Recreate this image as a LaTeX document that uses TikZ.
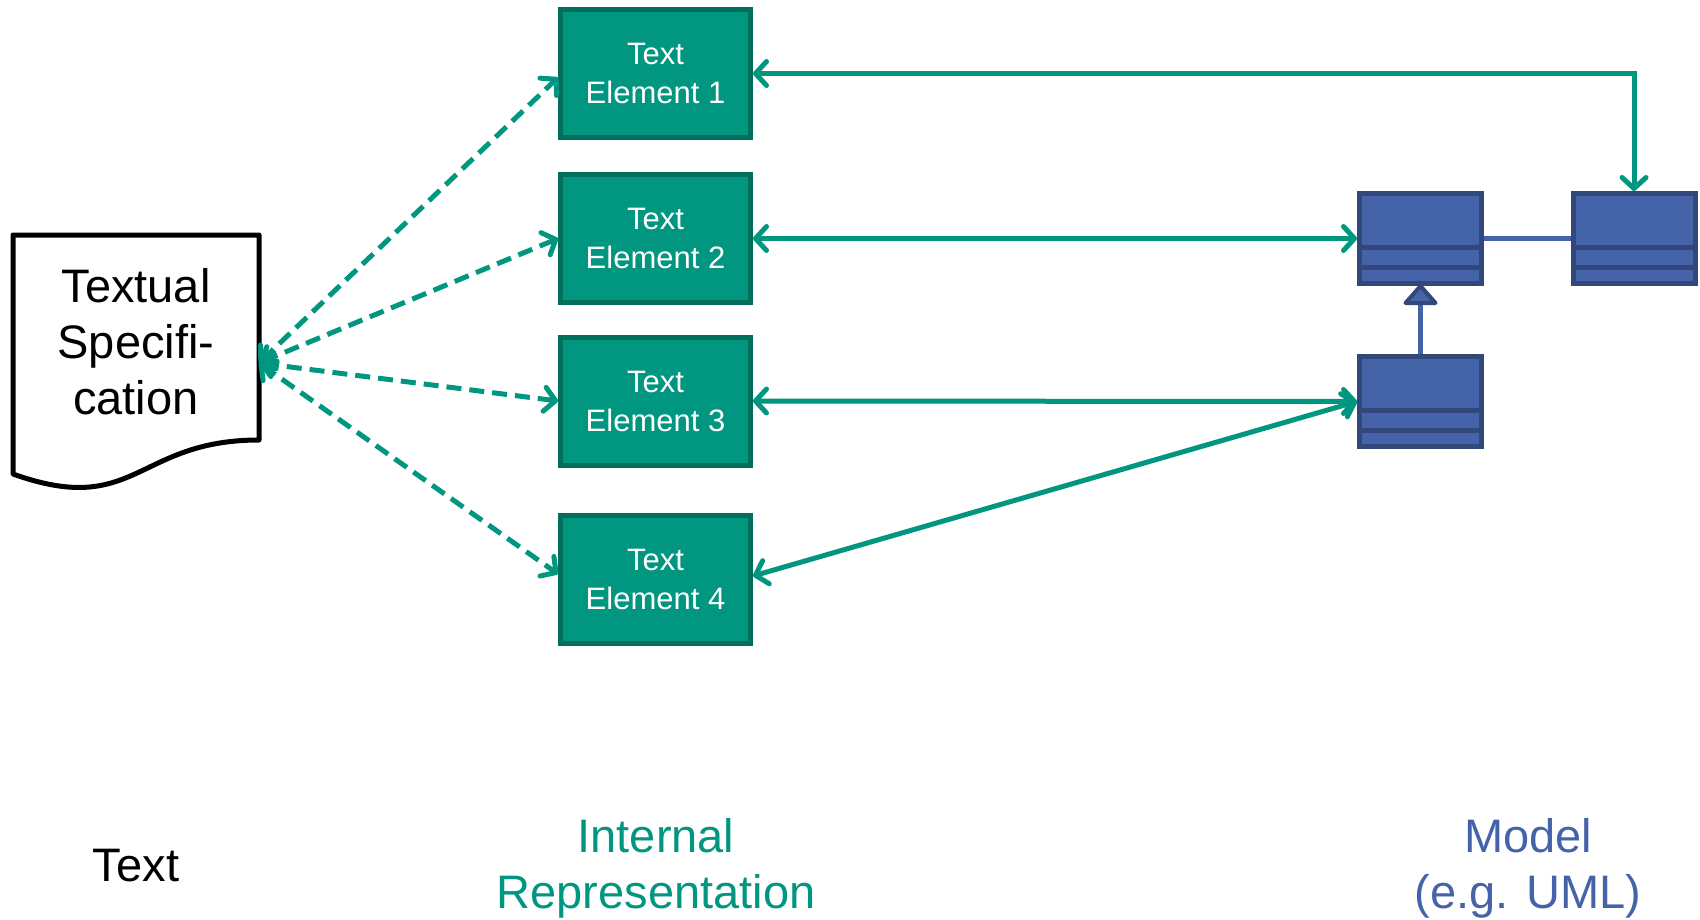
\documentclass[tikz,border=0pt]{standalone}
\usepackage{fontspec}
\setmainfont{Liberation Sans}
\usetikzlibrary{arrows.meta,calc}
\definecolor{teal1}{RGB}{0,150,128}
\definecolor{tealdark}{RGB}{0,112,92}
\definecolor{umlfill}{RGB}{68,99,168}
\definecolor{umldark}{RGB}{50,72,122}
\begin{document}
\begin{tikzpicture}[x=1pt,y=-1pt,
  elem/.style={rectangle, draw=tealdark, fill=teal1, line width=5pt, minimum width=190pt, minimum height=128pt, inner sep=0pt, text=white, align=center, font=\fontsize{31}{39}\selectfont},
  cls/.style={rectangle, draw=umldark, fill=umlfill, line width=5pt, minimum width=122pt, minimum height=90pt, inner sep=0pt},
  divider/.style={draw=umldark, line width=5pt},
  umlline/.style={draw=umlfill, line width=5pt},
  link/.style={draw=teal1, line width=5pt, {Straight Barb[length=11pt,width=24pt,round]}-{Straight Barb[length=11pt,width=24pt,round]}},
  dlink/.style={link, dash pattern=on 15pt off 8pt},
  big/.style={font=\fontsize{47}{56}\selectfont, align=center, inner sep=0pt},
]
\useasboundingbox (0,0) rectangle (1700,919);

% document shape
\draw[line width=5pt, line join=round, fill=white] (13,235) -- (259,235) -- (259,440) .. controls (136,440) and (136,518) .. (13,474) -- cycle;
\coordinate (docR) at (259,363);
\node[big, anchor=base] (doc) at (136,414) {Textual\\Specifi-\\cation};

% text elements
\node[elem] (b1) at (655.5,73.5) {Text\\Element 1};
\node[elem] (b2) at (655.5,238.5) {Text\\Element 2};
\node[elem] (b3) at (655.5,401) {Text\\Element 3};
\node[elem] (b4) at (655.5,579) {Text\\Element 4};

% UML classes
\node[cls] (clsA) at (1420.5,238.5) {};
\node[cls] (clsB) at (1634,238.5) {};
\node[cls] (clsC) at (1420.5,401.5) {};
\draw[umlline] (clsA.east) -- (clsB.west);
\foreach \c/\ya/\yb in {clsA/247/267, clsB/247/267, clsC/410/430} {
  \draw[divider] (\c.west |- 0,\ya) -- (\c.east |- 0,\ya);
  \draw[divider] (\c.west |- 0,\yb) -- (\c.east |- 0,\yb);
}
\coordinate (triBase) at ($(clsA.south)+(0,17)$);
\draw[umlline] (clsC.north) -- (triBase);
\draw[draw=umldark, fill=umlfill, line width=4pt, line join=round] (clsA.south) -- ($(triBase)+(-15,0)$) -- ($(triBase)+(15,0)$) -- cycle;

% connectors
\draw[link] (b1.east) -| (clsB.north);
\draw[link] (b2.east) -- (clsA.west);
\draw[link] (b3.east) -- (clsC.west);
\draw[link] ([yshift=3pt]b4.east) -- (clsC.west);
\draw[dlink] (docR) -- ([yshift=-4pt]b1.west);
\draw[dlink] (docR) -- (b2.west);
\draw[dlink] (docR) -- (b3.west);
\draw[dlink] (docR) -- ([yshift=5pt]b4.west);

% bottom labels
\node[big, anchor=base] (lblText) at (136,881) {Text};
\node[big, anchor=base, text=teal1] (lblInt) at (656,908) {Internal\\Representation};
\node[big, anchor=base, text=umlfill] (lblModel) at (1528,908) {Model\\(e.g. UML)};
\end{tikzpicture}
\end{document}
